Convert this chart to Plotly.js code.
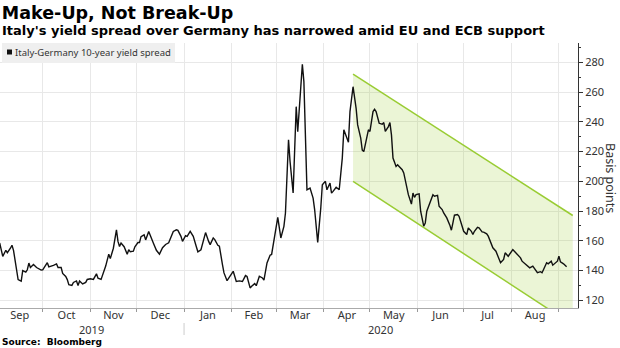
<!DOCTYPE html>
<html><head><meta charset="utf-8">
<script src="https://cdn.plot.ly/plotly-3.0.1.min.js"></script>
<style>html,body{margin:0;padding:0;background:#fff}#chart{width:620px;height:348px}</style>
</head><body><div id="chart"></div>
<script>
const dates = [
'2019-09-03','2019-09-05','2019-09-07','2019-09-08','2019-09-10','2019-09-11','2019-09-12','2019-09-14','2019-09-15','2019-09-17',
'2019-09-18','2019-09-20','2019-09-21','2019-09-22','2019-09-23','2019-09-25','2019-09-27','2019-09-30','2019-10-01','2019-10-04',
'2019-10-05','2019-10-08','2019-10-10','2019-10-11','2019-10-13','2019-10-14','2019-10-16','2019-10-17','2019-10-18','2019-10-20',
'2019-10-21','2019-10-23','2019-10-24','2019-10-25','2019-10-27','2019-10-29','2019-10-30','2019-11-01','2019-11-03','2019-11-05',
'2019-11-06','2019-11-08','2019-11-11','2019-11-13','2019-11-14','2019-11-16','2019-11-18','2019-11-19','2019-11-20','2019-11-21',
'2019-11-23','2019-11-25','2019-11-26','2019-11-27','2019-11-29','2019-11-30','2019-12-02','2019-12-03','2019-12-04','2019-12-06',
'2019-12-07','2019-12-09','2019-12-10','2019-12-12','2019-12-14','2019-12-16','2019-12-18','2019-12-20','2019-12-22','2019-12-23',
'2019-12-25','2019-12-27','2019-12-28','2019-12-30','2019-12-31','2020-01-02','2020-01-03','2020-01-05','2020-01-07','2020-01-09',
'2020-01-10','2020-01-12','2020-01-13','2020-01-15','2020-01-17','2020-01-18','2020-01-20','2020-01-21','2020-01-23','2020-01-24',
'2020-01-26','2020-01-27','2020-01-29','2020-01-31','2020-02-02','2020-02-04','2020-02-06','2020-02-08','2020-02-10','2020-02-11',
'2020-02-13','2020-02-14','2020-02-16','2020-02-17','2020-02-19','2020-02-21','2020-02-22','2020-02-24','2020-02-26','2020-02-27',
'2020-02-29','2020-03-02','2020-03-04','2020-03-06','2020-03-07','2020-03-09','2020-03-10','2020-03-12','2020-03-14','2020-03-15',
'2020-03-17','2020-03-18','2020-03-19','2020-03-21','2020-03-23','2020-03-25','2020-03-26','2020-03-28','2020-03-30','2020-03-31',
'2020-04-02','2020-04-03','2020-04-05','2020-04-06','2020-04-07','2020-04-09','2020-04-11','2020-04-13','2020-04-14','2020-04-15',
'2020-04-17','2020-04-18','2020-04-20','2020-04-22','2020-04-23','2020-04-25','2020-04-26','2020-04-27','2020-04-28','2020-04-30',
'2020-05-01','2020-05-02','2020-05-03','2020-05-04','2020-05-05','2020-05-07','2020-05-09','2020-05-10','2020-05-11','2020-05-13',
'2020-05-14','2020-05-15','2020-05-16','2020-05-18','2020-05-19','2020-05-20','2020-05-22','2020-05-23','2020-05-25','2020-05-26',
'2020-05-28','2020-05-29','2020-05-30','2020-05-31','2020-06-02','2020-06-03','2020-06-05','2020-06-06','2020-06-07','2020-06-09',
'2020-06-11','2020-06-12','2020-06-14','2020-06-15','2020-06-17','2020-06-18','2020-06-20','2020-06-22','2020-06-23','2020-06-24',
'2020-06-25','2020-06-27','2020-06-28','2020-06-30','2020-07-01','2020-07-03','2020-07-04','2020-07-06','2020-07-07','2020-07-08',
'2020-07-10','2020-07-11','2020-07-13','2020-07-14','2020-07-16','2020-07-17','2020-07-19','2020-07-20','2020-07-22','2020-07-24',
'2020-07-25','2020-07-27','2020-07-28','2020-07-30','2020-07-31','2020-08-02','2020-08-03','2020-08-05','2020-08-07','2020-08-08',
'2020-08-10','2020-08-11','2020-08-13','2020-08-15','2020-08-16','2020-08-18','2020-08-20','2020-08-21','2020-08-22','2020-08-24',
'2020-08-25','2020-08-27','2020-08-28','2020-08-29','2020-08-31','2020-09-01','2020-09-02','2020-09-04','2020-09-06'
];
const spread = [
158.5,149.5,153.6,152,155,157,153.6,140.6,133.9,132.8,
140,139,140.5,145,142,144,142,140.3,140.5,145.3,
142.5,143.5,144.4,142,142,138,136,133.9,130.5,130,
132,133,130,133,131,132,134,134.5,134,137.8,
134.8,134,143,151,148,155,167.4,159.6,156.2,158.5,
156,151,154,152.6,153,156,158.8,158.8,162.8,164,
160.6,166.3,163.4,158.5,153.6,151,155.3,157.5,158.6,160.8,
166.3,167.4,167,163,159.6,163.4,163,166.3,163,156,
152.6,154,158.5,165.5,159.6,157.4,161.9,160.8,157,156.4,
144,138.4,133.2,136,139.5,132.6,133,132.6,136.6,136,
128.3,129.4,131.2,129.8,136.2,135,133.5,145.1,150.3,150.8,
161.9,175.7,161.9,169.7,178.7,227.9,213.3,192.1,250.2,233.4,
263.6,278.7,267,194.3,195.4,188.7,181,158.9,182,197.7,
200,194.3,198.8,192.1,193.2,196,194.3,215.6,234.6,231.6,
226.3,246.9,263.6,249,237.9,229,221,220,224.5,234.6,
233.5,241.3,246.9,248.4,246.9,239,238.4,239.5,233.5,236.8,
239.5,231.2,215.6,210,211.1,210,207.8,205.6,196.6,191,
184.7,192.1,189.2,191,191.5,179.9,169.8,172,179.9,185.5,
191,190,190.6,183.2,181,178.7,175.4,170.5,167.1,172,
177.2,177.6,176.5,169.8,166.4,164.2,168.7,166.4,164.2,166.4,
169.1,168.7,166,165.8,164.7,163.1,157.5,155.3,153,147.4,
145.2,147.4,151.9,149.6,151.2,154.1,153,150.8,148.5,146.3,
144.5,143,141.8,143,141.2,138.5,139.2,138.5,140.7,145.2,
144.5,146.3,143.6,144.5,146.3,149.6,145.8,144.5,142.5
];
const seriesName = 'Italy-Germany 10-year yield spread';
const channelDates = ['2020-04-20', '2020-09-10'];
const channelUpper = [272, 177];
const channelLower = [200, 103.4];
const yearLabels = ['2019', '2020'];
const yearCenters = ['2019-11-01 12:00', '2020-05-08'];
const yearBoundary = '2020-01-01';

const green = '#99cc33';
const traces = [
  {x: [channelDates[0], channelDates[1], channelDates[1], channelDates[0]],
   y: [channelUpper[0], channelUpper[1], channelLower[1], channelLower[0]],
   type: 'scatter', mode: 'lines', fill: 'toself', fillcolor: 'rgba(153,204,51,0.2)',
   line: {width: 0}, hoverinfo: 'skip'},
  {x: channelDates, y: channelUpper, type: 'scatter', mode: 'lines', line: {color: green, width: 1.5}},
  {x: channelDates, y: channelLower, type: 'scatter', mode: 'lines', line: {color: green, width: 1.5}},
  {x: dates, y: spread, name: seriesName, type: 'scatter', mode: 'lines', line: {color: '#111', width: 1.4}}
];

const H = 265, B = 308, W = 578;
const py = p => (B - p) / H;
const px = p => p / W;
const tickFont = {family: 'Noto Sans', size: 11, color: '#333'};

const layout = {
  width: 620, height: 348,
  margin: {l: 0, r: 42, t: 43, b: 40},
  paper_bgcolor: '#fff', plot_bgcolor: '#fff',
  showlegend: false,
  title: {text: 'Make-Up, Not Break-Up', x: 0.003, xref: 'container', xanchor: 'left',
          y: 1 - 13/348, yref: 'container', yanchor: 'middle',
          font: {family: 'DejaVu Sans', weight: 'bold', size: 17.5, color: '#000'}},
  xaxis: {type: 'date', range: ['2019-09-03 05:00', '2020-09-13 10:00'],
          dtick: 'M1', tick0: '2019-09-01', tickformat: '%b', ticklabelmode: 'period',
          ticks: 'outside', ticklen: 3, tickcolor: '#999', ticklabelstandoff: -6,
          showgrid: true, gridcolor: '#e8e8e8', showline: true, linecolor: '#aaa', linewidth: 1,
          zeroline: false, tickfont: tickFont, fixedrange: true},
  yaxis: {side: 'right', range: [114.8, 293], dtick: 20, tick0: 0,
          ticks: 'outside', ticklen: 4, tickcolor: '#333',
          minor: {dtick: 10, ticks: 'outside', ticklen: 2, tickcolor: '#333', showgrid: false},
          showgrid: true, gridcolor: '#e8e8e8', showline: true, linecolor: '#333', linewidth: 1,
          zeroline: false, tickfont: tickFont, fixedrange: true},
  shapes: [
    {type: 'rect', xref: 'paper', yref: 'paper', x0: px(2), x1: px(175), y0: py(63), y1: py(43),
     fillcolor: '#efefef', line: {width: 0}, layer: 'above'},
    {type: 'rect', xref: 'paper', yref: 'paper', x0: px(7), x1: px(12), y0: py(54.5), y1: py(49.5),
     fillcolor: '#111', line: {width: 0}, layer: 'above'},
    {type: 'line', xref: 'x', yref: 'paper', x0: yearBoundary, x1: yearBoundary, y0: py(323), y1: py(335),
     line: {color: '#ccc', width: 1}}
  ],
  annotations: [
    {text: "Italy's yield spread over Germany has narrowed amid EU and ECB support",
     xref: 'paper', yref: 'paper', x: 0, y: py(30.5), xanchor: 'left', yanchor: 'middle', showarrow: false,
     font: {family: 'DejaVu Sans', weight: 'bold', size: 13, color: '#000'}},
    {text: seriesName, xref: 'paper', yref: 'paper', x: px(13), y: py(52.7), xanchor: 'left', yanchor: 'middle',
     showarrow: false, font: {family: 'Noto Sans', size: 9.5, color: '#333'}},
    {text: 'Basis points', xref: 'paper', yref: 'paper', x: px(611), y: py(178), xanchor: 'center', yanchor: 'middle',
     textangle: 90, showarrow: false, font: {family: 'Noto Sans', size: 12.5, color: '#333'}},
    {text: yearLabels[0], xref: 'x', yref: 'paper', x: yearCenters[0], y: py(329), xanchor: 'center', yanchor: 'middle',
     showarrow: false, font: tickFont},
    {text: yearLabels[1], xref: 'x', yref: 'paper', x: yearCenters[1], y: py(329), xanchor: 'center', yanchor: 'middle',
     showarrow: false, font: tickFont},
    {text: 'Source:  Bloomberg', xref: 'paper', yref: 'paper', x: 0, y: py(342), xanchor: 'left', yanchor: 'middle',
     showarrow: false, font: {family: 'DejaVu Sans', weight: 'bold', size: 9, color: '#000'}}
  ]
};

Plotly.newPlot('chart', traces, layout, {staticPlot: true, displayModeBar: false});
</script>
</body></html>
